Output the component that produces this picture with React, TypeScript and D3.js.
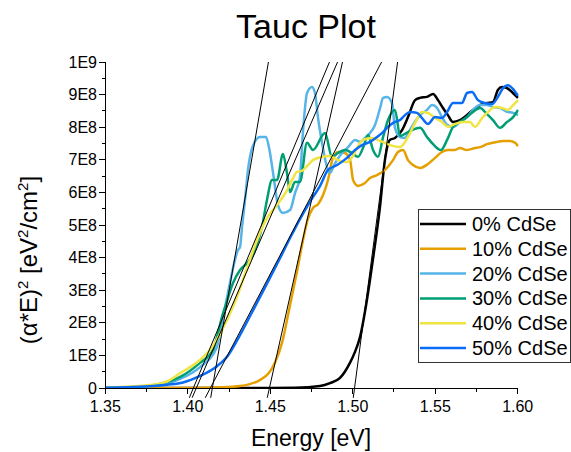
import React from "react";
import * as d3 from "d3";

// Tauc plot of (αE)² versus photon energy for CdSe alloy films.
// Values are in units of 1E8 eV²/cm²; energies in eV.

const seriesNames = ["0% CdSe", "10% CdSe", "20% CdSe", "30% CdSe", "40% CdSe", "50% CdSe"];
const seriesColors = ["#000000", "#E69F00", "#56B4E9", "#009E73", "#F0E442", "#0A6CF5"];

const cdse0: [number, number][] = [
  [1.35, 0], [1.40, 0], [1.45, 0], [1.465, 0.005], [1.4802, 0.06], [1.4862, 0.15], [1.4923, 0.31],
  [1.4983, 0.77], [1.5013, 1.1], [1.5044, 1.56], [1.5086, 2.7], [1.5122, 3.93], [1.5165, 5.55],
  [1.5195, 6.99], [1.5225, 7.61], [1.5256, 7.67], [1.5299, 7.91], [1.5335, 8.31], [1.5378, 8.83],
  [1.5408, 8.9], [1.545, 8.93], [1.5487, 9.02], [1.5517, 8.83], [1.5547, 8.59], [1.5577, 8.37],
  [1.5607, 8.16], [1.565, 8.22], [1.5692, 8.37], [1.5729, 8.53], [1.5771, 8.68], [1.5814, 8.74],
  [1.585, 8.77], [1.588, 9.14], [1.5905, 9.23], [1.5935, 9.2], [1.5971, 9.05], [1.6002, 8.9],
];

const cdse10: [number, number][] = [
  [1.35, 0], [1.40, 0], [1.42, 0.02], [1.4317, 0.06], [1.4439, 0.25], [1.449, 0.45], [1.453, 0.8],
  [1.4572, 1.4], [1.461, 2.3], [1.4663, 3.6], [1.4699, 4.55], [1.4729, 5.2], [1.4759, 5.52], [1.479, 5.64],
  [1.482, 5.92], [1.485, 6.38], [1.488, 7.06], [1.4911, 7.24], [1.4953, 7.21], [1.4984, 6.99],
  [1.5002, 6.38], [1.5032, 6.2], [1.5074, 6.29], [1.5105, 6.44], [1.5147, 6.53], [1.5196, 6.69],
  [1.5244, 6.99], [1.5274, 7.24], [1.5305, 7.3], [1.5335, 6.99], [1.5365, 6.84], [1.5408, 6.75],
  [1.5456, 6.87], [1.5499, 7.06], [1.5541, 7.24], [1.5578, 7.3], [1.562, 7.3], [1.565, 7.36],
  [1.5693, 7.3], [1.5741, 7.36], [1.5772, 7.39], [1.5814, 7.48], [1.5875, 7.55], [1.5911, 7.58],
  [1.5954, 7.58], [1.5984, 7.52], [1.6002, 7.42],
];

const cdse20: [number, number][] = [
  [1.35, 0.01], [1.367, 0.03], [1.3874, 0.14], [1.3954, 0.28], [1.4074, 0.64], [1.4177, 1.26],
  [1.4195, 1.72], [1.4226, 2.48], [1.4268, 3.53], [1.4286, 3.93], [1.4304, 4.23], [1.4317, 4.33],
  [1.4329, 4.94], [1.4347, 5.77], [1.4365, 6.69], [1.439, 7.36], [1.4438, 7.7], [1.4474, 7.7],
  [1.4493, 7.36], [1.4517, 6.6], [1.4547, 5.61], [1.4577, 5.37], [1.462, 5.46], [1.465, 5.98],
  [1.468, 6.47], [1.4699, 7.91], [1.4723, 9.05], [1.4753, 9.23], [1.4771, 9.05], [1.4789, 8.31],
  [1.4814, 7.52], [1.4844, 6.78], [1.4862, 6.6], [1.4893, 6.9], [1.4935, 7.21], [1.4972, 7.39],
  [1.5014, 7.61], [1.5044, 7.55], [1.5075, 7.67], [1.5105, 7.82], [1.5135, 8.07], [1.5166, 8.59],
  [1.5184, 8.9], [1.5208, 8.93], [1.5238, 8.74], [1.5256, 7.98], [1.5287, 7.7], [1.5317, 7.67],
  [1.5335, 7.82], [1.5365, 8.07], [1.5408, 8.37], [1.545, 8.53], [1.5481, 8.68], [1.5511, 8.59],
  [1.5541, 8.31], [1.5572, 8.07], [1.5608, 8.01], [1.565, 8.16], [1.5693, 8.31], [1.5729, 8.53],
  [1.5772, 8.68], [1.5814, 8.68], [1.585, 8.62], [1.5893, 8.59], [1.5935, 8.47], [1.5972, 8.44],
  [1.6002, 8.37],
];

const cdse30: [number, number][] = [
  [1.35, 0.01], [1.367, 0.03], [1.3874, 0.18], [1.3954, 0.34], [1.4074, 0.77], [1.4153, 1.17],
  [1.4214, 2.3], [1.4226, 2.48], [1.4274, 3.22], [1.4317, 3.62], [1.4359, 3.83], [1.4408, 4.23],
  [1.445, 4.94], [1.448, 5.77], [1.4511, 6.38], [1.4541, 6.38], [1.4577, 7.18], [1.4601, 6.6],
  [1.462, 6.01], [1.465, 6.32], [1.468, 6.32], [1.4723, 7.52], [1.4759, 7.3], [1.4832, 7.82],
  [1.4874, 7.09], [1.4911, 7.21], [1.4953, 7.3], [1.4995, 7.21], [1.5032, 7.09], [1.5062, 7.36],
  [1.5093, 7.76], [1.5123, 7.3], [1.5153, 7.09], [1.5184, 7.7], [1.5214, 8.22], [1.5256, 8.53],
  [1.5287, 7.73], [1.5335, 7.85], [1.5408, 7.98], [1.545, 7.7], [1.5487, 7.48], [1.5535, 7.3],
  [1.5572, 7.61], [1.5608, 8.01], [1.565, 8.16], [1.5693, 8.31], [1.5729, 8.47], [1.5772, 8.59],
  [1.5814, 8.4], [1.585, 8.22], [1.5893, 7.98], [1.5935, 8.16], [1.5972, 8.31], [1.6002, 8.53],
];

const cdse40: [number, number][] = [
  [1.35, 0.01], [1.3772, 0.09], [1.3874, 0.2], [1.3954, 0.46], [1.4074, 0.86], [1.4153, 1.29],
  [1.4238, 2.09], [1.4298, 2.79], [1.4359, 3.68], [1.442, 4.54], [1.448, 5.21], [1.4541, 5.61],
  [1.4602, 6.07], [1.4638, 6.44], [1.4662, 6.63], [1.4692, 6.66], [1.4723, 6.81], [1.4759, 6.99],
  [1.4814, 7.09], [1.4862, 7.12], [1.4911, 6.99], [1.4965, 6.93], [1.5002, 7.12], [1.5032, 7.42],
  [1.5062, 7.61], [1.5117, 7.67], [1.5166, 7.58], [1.5226, 7.45], [1.5287, 7.39], [1.5335, 7.7],
  [1.5378, 8.13], [1.542, 8.47], [1.5456, 8.44], [1.5499, 8.28], [1.5541, 8.16], [1.5578, 8.01],
  [1.562, 8.1], [1.5668, 8.16], [1.5711, 8.16], [1.5741, 8.01], [1.5784, 8.28], [1.582, 8.47],
  [1.5863, 8.62], [1.5905, 8.59], [1.5941, 8.53], [1.5972, 8.68], [1.6002, 8.83],
];

const cdse50: [number, number][] = [
  [1.35, 0.01], [1.367, 0.03], [1.3874, 0.1], [1.3971, 0.17], [1.4074, 0.37], [1.4177, 0.67],
  [1.4244, 1.0], [1.4298, 1.45], [1.4377, 2.2], [1.448, 3.2], [1.4559, 3.98],
  [1.462, 4.6], [1.468, 5.18], [1.4741, 5.72], [1.4802, 6.2], [1.485, 6.69], [1.4905, 6.84],
  [1.4965, 7.06], [1.5014, 7.3], [1.5056, 7.45], [1.5105, 7.55], [1.5147, 7.7], [1.5184, 7.85],
  [1.5214, 8.01], [1.5256, 8.16], [1.5287, 8.22], [1.5317, 8.37], [1.5347, 8.47], [1.539, 8.44],
  [1.542, 8.28], [1.5456, 8.1], [1.5499, 8.31], [1.5541, 8.28], [1.5572, 8.47], [1.5608, 8.74],
  [1.5662, 8.74], [1.5693, 9.05], [1.5723, 9.08], [1.5759, 8.83], [1.5802, 8.74], [1.5844, 8.71],
  [1.588, 8.93], [1.5911, 9.2], [1.5941, 9.29], [1.5972, 9.17], [1.6002, 8.96],
];

const seriesData = [cdse0, cdse10, cdse20, cdse30, cdse40, cdse50];

// Linear band-edge fits: energy where each fit crosses zero and where it reaches 1E9.
const fitZeroCrossing = [1.5011, 1.4495, 1.4149, 1.4052, 1.4034, 1.4137];
const fitTopCrossing = [1.5272, 1.4938, 1.4489, 1.4908, 1.4859, 1.5175];

const xTicks = [1.35, 1.4, 1.45, 1.5, 1.55, 1.6];
const xTickLabels = ["1.35", "1.40", "1.45", "1.50", "1.55", "1.60"];
const yTicks = [0, 1, 2, 3, 4, 5, 6, 7, 8, 9, 10];
const yTickLabels = ["0", "1E8", "2E8", "3E8", "4E8", "5E8", "6E8", "7E8", "8E8", "9E8", "1E9"];

const W = 571;
const H = 452;
const left = 105.3;
const right = 517.7;
const top = 62;
const bottom = 388;
const FONT = "'Liberation Sans', Arial, sans-serif";

export default function App() {
  const x = d3.scaleLinear().domain([1.35, 1.6]).range([left, right]);
  const y = d3.scaleLinear().domain([0, 10]).range([bottom, top]);

  const line = d3
    .line<[number, number]>()
    .x((d) => x(d[0]))
    .y((d) => y(d[1]))
    .curve(d3.curveMonotoneX);

  const fitLine = d3
    .line<[number, number]>()
    .x((d) => x(d[0]))
    .y((d) => y(d[1]));

  const minorX = d3.range(0, 5).map((i) => 1.375 + i * 0.05);
  const minorY = d3.range(0, 10).map((i) => 0.5 + i);

  const legendX = 418;
  const legendY = 209;
  const rowH = 24.8;

  return (
    <svg
      width={W}
      height={H}
      style={{ position: "absolute", left: 0, top: 0, background: "#fff" }}
      fontFamily={FONT}
    >
      <defs>
        <clipPath id="plotClip">
          <rect x={left} y={top} width={right - left + 1} height={bottom - top + 1} />
        </clipPath>
        <clipPath id="fitClip">
          <rect x={left} y={top} width={right - left + 1} height={bottom - top + 12} />
        </clipPath>
      </defs>

      <text x={306} y={38} fontSize={34} textAnchor="middle" fill="#000">
        Tauc Plot
      </text>

      {/* data curves */}
      <g clipPath="url(#plotClip)">
        {seriesData.map((d, i) => (
          <path
            key={seriesNames[i]}
            d={line(d) ?? ""}
            fill="none"
            stroke={seriesColors[i]}
            strokeWidth={2.5}
            strokeLinejoin="round"
          />
        ))}
      </g>

      {/* linear fits */}
      <g clipPath="url(#fitClip)">
        {fitZeroCrossing.map((e0, i) => {
          const e1 = fitTopCrossing[i];
          const at = (v: number): [number, number] => [e0 + ((e1 - e0) * v) / 10, v];
          return (
            <path
              key={"fit" + i}
              d={fitLine([at(-0.3), at(10)]) ?? ""}
              fill="none"
              stroke="#000"
              strokeWidth={1}
            />
          );
        })}
      </g>

      {/* axes */}
      <g stroke="#000" strokeWidth={1} shapeRendering="crispEdges">
        <line x1={left} x2={left} y1={top} y2={bottom} />
        <line x1={left} x2={right} y1={bottom} y2={bottom} />
        {xTicks.map((t) => (
          <line key={"xt" + t} x1={x(t)} x2={x(t)} y1={bottom} y2={bottom + 6} />
        ))}
        {minorX.map((t) => (
          <line key={"xm" + t} x1={x(t)} x2={x(t)} y1={bottom} y2={bottom + 3.5} />
        ))}
        {yTicks.map((t) => (
          <line key={"yt" + t} x1={left - 6} x2={left} y1={y(t)} y2={y(t)} />
        ))}
        {minorY.map((t) => (
          <line key={"ym" + t} x1={left - 3.5} x2={left} y1={y(t)} y2={y(t)} />
        ))}
      </g>
      <g fontSize={16} fill="#000">
        {xTicks.map((t, i) => (
          <text key={"xl" + t} x={x(t)} y={412} textAnchor="middle">
            {xTickLabels[i]}
          </text>
        ))}
        {yTicks.map((t, i) => (
          <text key={"yl" + t} x={97} y={y(t) + 5.5} textAnchor="end">
            {yTickLabels[i]}
          </text>
        ))}
      </g>

      <text x={311} y={446} fontSize={23} textAnchor="middle" fill="#000">
        Energy [eV]
      </text>
      <text
        transform={`translate(37, 260) rotate(-90)`}
        fontSize={24}
        textAnchor="middle"
        fill="#000"
      >
        (α*E)<tspan dy={-9} fontSize={15}>2</tspan>
        <tspan dy={9}> [eV</tspan>
        <tspan dy={-9} fontSize={15}>2</tspan>
        <tspan dy={9}>/cm</tspan>
        <tspan dy={-9} fontSize={15}>2</tspan>
        <tspan dy={9}>]</tspan>
      </text>

      {/* legend */}
      <rect
        x={legendX}
        y={legendY}
        width={W - 1 - legendX}
        height={153}
        fill="#fff"
        stroke="#333"
        strokeWidth={1}
        shapeRendering="crispEdges"
      />
      {seriesNames.map((name, i) => {
        const cy = legendY + 15 + i * rowH;
        return (
          <g key={"lg" + name}>
            <line x1={420} x2={466} y1={cy} y2={cy} stroke={seriesColors[i]} strokeWidth={2.5} />
            <text x={472} y={cy + 7} fontSize={20} fill="#000">
              {name}
            </text>
          </g>
        );
      })}
    </svg>
  );
}
